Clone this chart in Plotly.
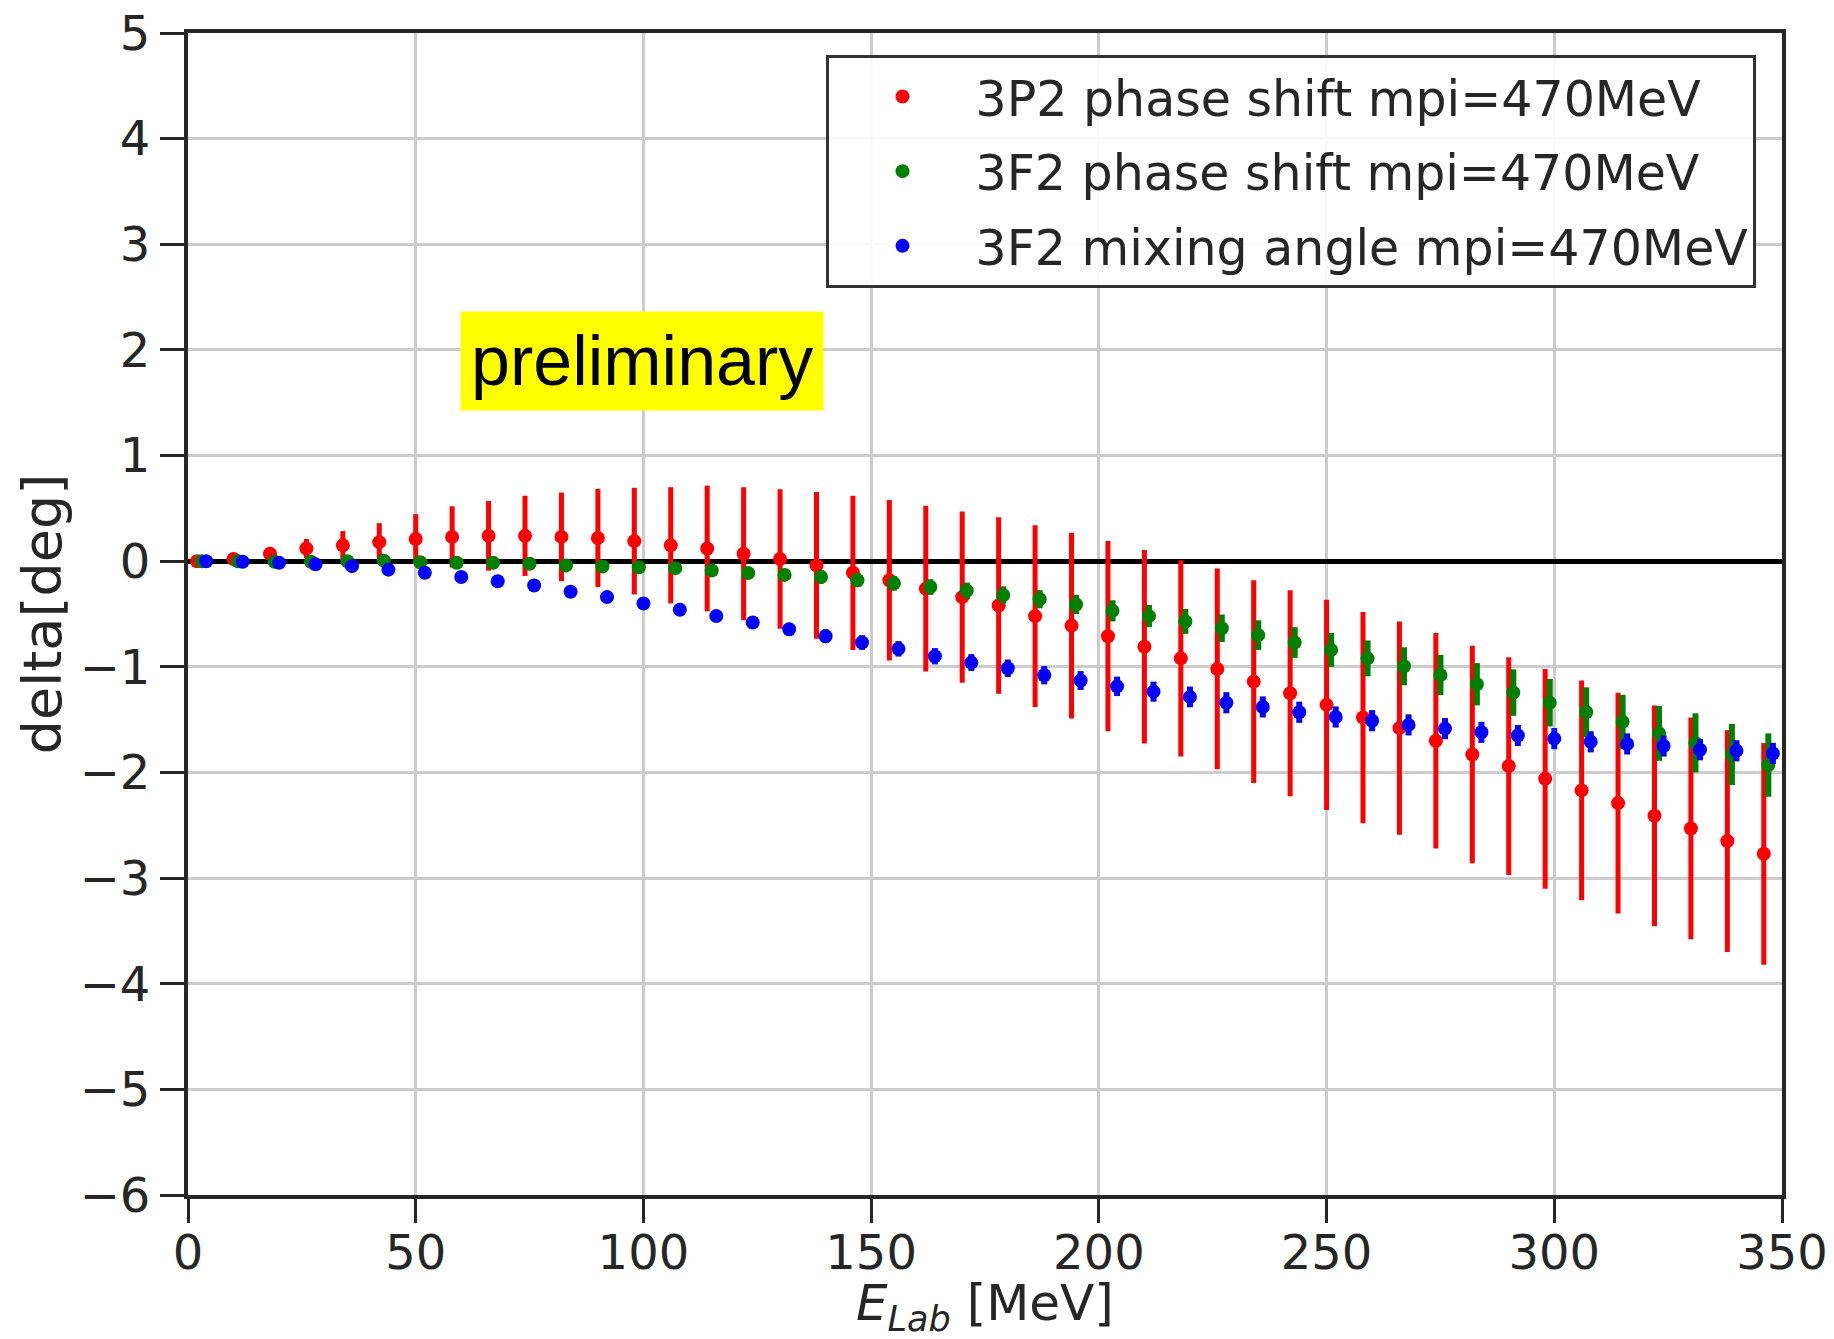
import plotly.graph_objects as go

# ---- data ----
E_3P2 = [2, 10, 18, 26, 34, 42, 50, 58, 66, 74, 82, 90, 98, 106, 114, 122, 130, 138, 146, 154, 162, 170,
         178, 186, 194, 202, 210, 218, 226, 234, 242, 250, 258, 266, 274, 282, 290, 298, 306, 314, 322, 330, 338, 346]
E_3F2 = [3, 11, 19, 27, 35, 43, 51, 59, 67, 75, 83, 91, 99, 107, 115, 123, 131, 139, 147, 155, 163, 171,
         179, 187, 195, 203, 211, 219, 227, 235, 243, 251, 259, 267, 275, 283, 291, 299, 307, 315, 323, 331, 339, 347]
E_mix = [4, 12, 20, 28, 36, 44, 52, 60, 68, 76, 84, 92, 100, 108, 116, 124, 132, 140, 148, 156, 164, 172,
         180, 188, 196, 204, 212, 220, 228, 236, 244, 252, 260, 268, 276, 284, 292, 300, 308, 316, 324, 332, 340, 348]

delta_3P2 = [0.00, 0.02, 0.07, 0.12, 0.15, 0.18, 0.21, 0.23, 0.24, 0.24, 0.23, 0.22, 0.19, 0.15, 0.12, 0.07,
             0.02, -0.04, -0.11, -0.18, -0.26, -0.34, -0.42, -0.52, -0.61, -0.71, -0.81, -0.92, -1.02, -1.14,
             -1.25, -1.36, -1.48, -1.58, -1.70, -1.83, -1.94, -2.06, -2.17, -2.29, -2.41, -2.53, -2.65, -2.77]
err_3P2 = [0.0, 0.02, 0.05, 0.09, 0.135, 0.18, 0.235, 0.29, 0.33, 0.38, 0.42, 0.465, 0.505, 0.55, 0.595, 0.63,
           0.66, 0.695, 0.73, 0.76, 0.785, 0.81, 0.835, 0.86, 0.88, 0.90, 0.915, 0.93, 0.95, 0.96,
           0.975, 0.995, 1.00, 1.01, 1.02, 1.03, 1.03, 1.04, 1.04, 1.045, 1.045, 1.05, 1.05, 1.05]

delta_3F2 = [0.0, 0.0, -0.005, -0.005, 0.0, 0.005, -0.01, -0.015, -0.015, -0.025, -0.04, -0.05, -0.057, -0.066,
             -0.088, -0.113, -0.13, -0.15, -0.18, -0.21, -0.245, -0.28, -0.32, -0.36, -0.41, -0.47, -0.52,
             -0.57, -0.635, -0.70, -0.77, -0.84, -0.92, -0.995, -1.077, -1.165, -1.244, -1.34, -1.43, -1.52,
             -1.63, -1.72, -1.83, -1.93]
err_3F2 = [0.0, 0.002, 0.005, 0.008, 0.012, 0.015, 0.02, 0.023, 0.027, 0.03, 0.034, 0.038, 0.042, 0.046,
           0.05, 0.054, 0.058, 0.062, 0.066, 0.07, 0.074, 0.078, 0.082, 0.086, 0.09, 0.10, 0.105, 0.118,
           0.13, 0.14, 0.145, 0.16, 0.17, 0.18, 0.19, 0.20, 0.22, 0.225, 0.236, 0.255, 0.26, 0.28, 0.29, 0.30]

eps_mix = [0.0, -0.005, -0.015, -0.03, -0.047, -0.08, -0.11, -0.15, -0.19, -0.23, -0.29, -0.34, -0.40, -0.46,
           -0.52, -0.58, -0.645, -0.71, -0.77, -0.83, -0.90, -0.96, -1.014, -1.08, -1.13, -1.185, -1.235,
           -1.285, -1.34, -1.38, -1.43, -1.475, -1.51, -1.55, -1.585, -1.62, -1.65, -1.68, -1.71, -1.73,
           -1.75, -1.785, -1.795, -1.82]
err_mix = [0.0, 0.003, 0.006, 0.01, 0.013, 0.017, 0.021, 0.025, 0.029, 0.033, 0.037, 0.041, 0.045, 0.049,
           0.053, 0.057, 0.061, 0.065, 0.069, 0.073, 0.077, 0.08, 0.083, 0.086, 0.089, 0.092, 0.095, 0.098,
           0.10, 0.10, 0.10, 0.10, 0.10, 0.10, 0.10, 0.10, 0.10, 0.10, 0.10, 0.10, 0.10, 0.10, 0.10, 0.10]

names = ["3P2 phase shift mpi=470MeV", "3F2 phase shift mpi=470MeV", "3F2 mixing angle mpi=470MeV"]
x_ticks = [0, 50, 100, 150, 200, 250, 300, 350]
y_ticks = [5, 4, 3, 2, 1, 0, -1, -2, -3, -4, -5, -6]

FONT = "DejaVu Sans"
TXT = "#262626"

fig = go.Figure()
series = [
    (E_3P2, delta_3P2, err_3P2, "#ff0000", names[0], 5),
    (E_3F2, delta_3F2, err_3F2, "#008000", names[1], 6),
    (E_mix, eps_mix, err_mix, "#0000ff", names[2], 6),
]
for i, (xs, ys, es, col, nm, th) in enumerate(series):
    fig.add_trace(go.Scatter(
        x=xs, y=ys, mode="markers", name=nm, legendgroup=f"g{i}",
        marker=dict(color=col, size=14, line=dict(width=0)),
        error_y=dict(type="data", array=es, visible=True, color=col, thickness=th, width=0),
    ))

fig.add_annotation(
    x=99.6, y=1.895, xref="x", yref="y", text="preliminary", showarrow=False,
    font=dict(family="Liberation Sans", size=70, color="black"),
    bgcolor="#ffff00", borderpad=10,
)

# x-axis title as a paper annotation (placed below tick labels like the reference)
fig.add_annotation(
    x=0.5, y=-0.096, xref="paper", yref="paper", xanchor="center", yanchor="middle",
    text="<i>E</i><sub><i>Lab</i></sub> [MeV]", showarrow=False,
    font=dict(family=FONT, size=50, color=TXT),
)

axis_common = dict(
    automargin=False,
    showline=True, linecolor=TXT, linewidth=4, mirror=True,
    ticks="outside", ticklen=24, tickwidth=3, tickcolor=TXT,
    showgrid=True, gridcolor="#cccccc", gridwidth=3,
    tickfont=dict(family=FONT, size=48, color=TXT),
)

fig.update_xaxes(
    range=[0, 350], tickvals=x_ticks, zeroline=False, ticklabelstandoff=-12,
    **axis_common,
)
fig.update_yaxes(
    range=[-6, 5], tickvals=y_ticks, zeroline=True, zerolinecolor="black", zerolinewidth=5,
    title=dict(text="delta[deg]", font=dict(family=FONT, size=54, color=TXT), standoff=2),
    **axis_common,
)

fig.update_layout(
    width=1834, height=1339,
    margin=dict(l=188, r=52, t=33, b=144),
    plot_bgcolor="white", paper_bgcolor="white",
    font=dict(family=FONT, color=TXT),
    legend=dict(
        x=0.984, y=0.981, xanchor="right", yanchor="top",
        font=dict(family=FONT, size=49, color=TXT),
        bgcolor="rgba(255,255,255,0.9)", bordercolor="#333333", borderwidth=3,
        itemwidth=136, tracegroupgap=8, traceorder="grouped",
    ),
)

fig.write_html("out.html")
